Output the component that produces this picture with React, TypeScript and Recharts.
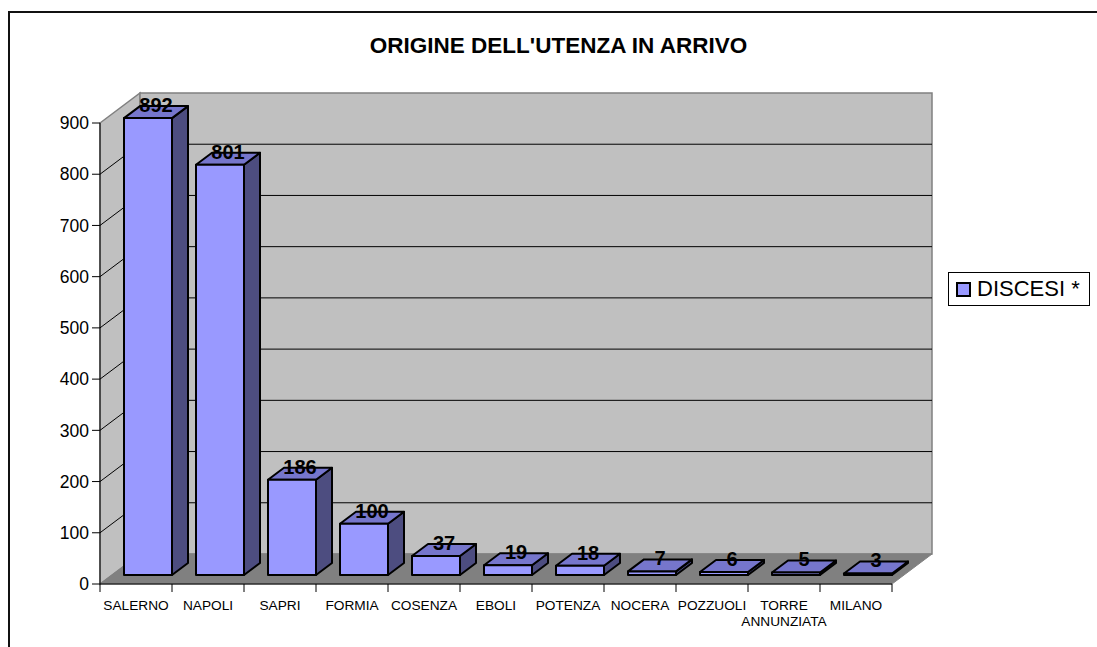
import { BarChart, Bar, XAxis, YAxis, CartesianGrid, ReferenceArea, LabelList, Legend, Customized } from 'recharts'

const categories = [
  'SALERNO',
  'NAPOLI',
  'SAPRI',
  'FORMIA',
  'COSENZA',
  'EBOLI',
  'POTENZA',
  'NOCERA',
  'POZZUOLI',
  'TORRE ANNUNZIATA',
  'MILANO',
]
const discesi = [892, 801, 186, 100, 37, 19, 18, 7, 6, 5, 3]
const yTicks = [0, 100, 200, 300, 400, 500, 600, 700, 800, 900]
const seriesName = 'DISCESI *'
const title = "ORIGINE DELL'UTENZA IN ARRIVO"

const data = categories.map((name, i) => ({ name, value: discesi[i] }))

const FONT = 'Arial, "Liberation Sans", sans-serif'

// depth of the 3d box (floor/walls) and of the bars inside it
const DEPTH_X = 40
const DEPTH_Y = -30
const BAR_SHIFT_X = 12
const BAR_SHIFT_Y = -9
const BAR_DX = 16
const BAR_DY = -12

const WALL = '#C0C0C0'
const FLOOR = '#808080'
const EDGE = '#808080'
const BAR_FRONT = '#9999FF'
const BAR_TOP = '#7676CC'
const BAR_SIDE = '#4D4D80'

function Walls(props: any) {
  const { x, y, width: w, height: h } = props
  return (
    <g>
      <polygon
        points={`${x},${y} ${x + DEPTH_X},${y + DEPTH_Y} ${x + DEPTH_X},${y + h + DEPTH_Y} ${x},${y + h}`}
        fill={WALL}
        stroke={EDGE}
        strokeWidth={1.5}
      />
      <rect x={x + DEPTH_X} y={y + DEPTH_Y} width={w} height={h} fill={WALL} stroke={EDGE} strokeWidth={1.5} />
      <polygon
        points={`${x},${y + h} ${x + DEPTH_X},${y + h + DEPTH_Y} ${x + w + DEPTH_X},${y + h + DEPTH_Y} ${x + w},${y + h}`}
        fill={FLOOR}
        stroke={EDGE}
        strokeWidth={1}
      />
    </g>
  )
}

function gridLine(p: any) {
  const { x1, x2, y1 } = p
  return (
    <g key={`grid-${y1}`}>
      <line x1={x1 + DEPTH_X} y1={y1 + DEPTH_Y} x2={x2 + DEPTH_X} y2={y1 + DEPTH_Y} stroke="#000" strokeWidth={1} />
      <line x1={x1} y1={y1} x2={x1 + DEPTH_X} y2={y1 + DEPTH_Y} stroke="#000" strokeWidth={1} />
    </g>
  )
}

function Box3D(props: any) {
  const { x, y, width: w, height: h } = props
  if (w == null || h == null) return null
  const fx = x + BAR_SHIFT_X
  const fy = y + BAR_SHIFT_Y
  return (
    <g stroke="#000" strokeWidth={2} strokeLinejoin="round">
      <polygon
        points={`${fx + w},${fy} ${fx + w + BAR_DX},${fy + BAR_DY} ${fx + w + BAR_DX},${fy + h + BAR_DY} ${fx + w},${fy + h}`}
        fill={BAR_SIDE}
      />
      <polygon
        points={`${fx},${fy} ${fx + BAR_DX},${fy + BAR_DY} ${fx + w + BAR_DX},${fy + BAR_DY} ${fx + w},${fy}`}
        fill={BAR_TOP}
      />
      <rect x={fx} y={fy} width={w} height={h} fill={BAR_FRONT} />
    </g>
  )
}

function ValueLabel(props: any) {
  const { x, y, width, value } = props
  return (
    <text
      x={x + width / 2 + BAR_SHIFT_X + BAR_DX / 2}
      y={y + BAR_SHIFT_Y - 6}
      textAnchor="middle"
      fontFamily={FONT}
      fontWeight="bold"
      fontSize={20}
      fill="#000"
    >
      {value}
    </text>
  )
}

function CategoryTick(props: any) {
  const { x, y, payload, index } = props
  const half = payload?.offset || 36
  const lines = String(payload.value).split(' ')
  return (
    <g>
      {index === 0 && <line x1={x - half} y1={y} x2={x - half} y2={y + 8} stroke="#000" />}
      <line x1={x + half} y1={y} x2={x + half} y2={y + 8} stroke="#000" />
      <text x={x} y={y + 26} textAnchor="middle" fontFamily={FONT} fontSize={13.7} fill="#000">
        {lines.map((l, i) => (
          <tspan key={i} x={x} dy={i === 0 ? 0 : 16}>
            {l}
          </tspan>
        ))}
      </text>
    </g>
  )
}

function LegendBox(props: any) {
  const item = props.payload?.[0]
  return (
    <div
      style={{
        width: 142,
        height: 34,
        boxSizing: 'border-box',
        border: '1.5px solid #000',
        background: '#fff',
        display: 'flex',
        alignItems: 'center',
        paddingLeft: 7,
        fontFamily: FONT,
        fontSize: 22,
        color: '#000',
      }}
    >
      <svg width={15} height={15} style={{ marginRight: 6 }}>
        <rect x={1} y={1} width={13} height={13} fill={BAR_FRONT} stroke="#000" strokeWidth={2} />
      </svg>
      <span>{item ? item.value : seriesName}</span>
    </div>
  )
}

function Title() {
  return (
    <text x={550.5} y={45} textAnchor="middle" fontFamily={FONT} fontWeight="bold" fontSize={22.5} fill="#000">
      {title}
    </text>
  )
}

export default function App() {
  return (
    <div style={{ position: 'relative', width: 1097, height: 647, overflow: 'hidden', background: '#fff' }}>
      <style>{'body { margin: 0; }'}</style>
      <div
        style={{
          position: 'absolute',
          left: 8,
          top: 11,
          width: 1200,
          height: 800,
          border: '2px solid #111',
        }}
      />
      <div style={{ position: 'absolute', left: 8, top: 8 }}>
        <BarChart
          width={1089}
          height={639}
          data={data}
          margin={{ top: 115, right: 205, bottom: 23, left: 32 }}
        >
          <ReferenceArea y1={0} y2={900} shape={Walls} ifOverflow="visible" zIndex={-200} />
          <CartesianGrid vertical={false} horizontal={gridLine} horizontalValues={yTicks.slice(1, -1)} />
          <XAxis
            dataKey="name"
            height={40}
            axisLine={{ stroke: '#000' }}
            tickLine={false}
            tickSize={0}
            tickMargin={0}
            interval={0}
            tick={CategoryTick}
          />
          <YAxis
            width={60}
            domain={[0, 900]}
            ticks={yTicks}
            interval={0}
            axisLine={{ stroke: '#000' }}
            tickLine={{ stroke: '#000' }}
            tickSize={8}
            tickMargin={3}
            tick={{ fontFamily: FONT, fontSize: 17.5, fill: '#000' }}
          />
          <Bar dataKey="value" name={seriesName} barSize={48} shape={Box3D} isAnimationActive={false}>
            <LabelList dataKey="value" content={ValueLabel} />
          </Bar>
          <Legend
            layout="vertical"
            align="center"
            verticalAlign="middle"
            content={LegendBox}
            wrapperStyle={{ left: 940, top: 264, width: 'auto' }}
          />
          <Customized component={Title} />
        </BarChart>
      </div>
    </div>
  )
}
